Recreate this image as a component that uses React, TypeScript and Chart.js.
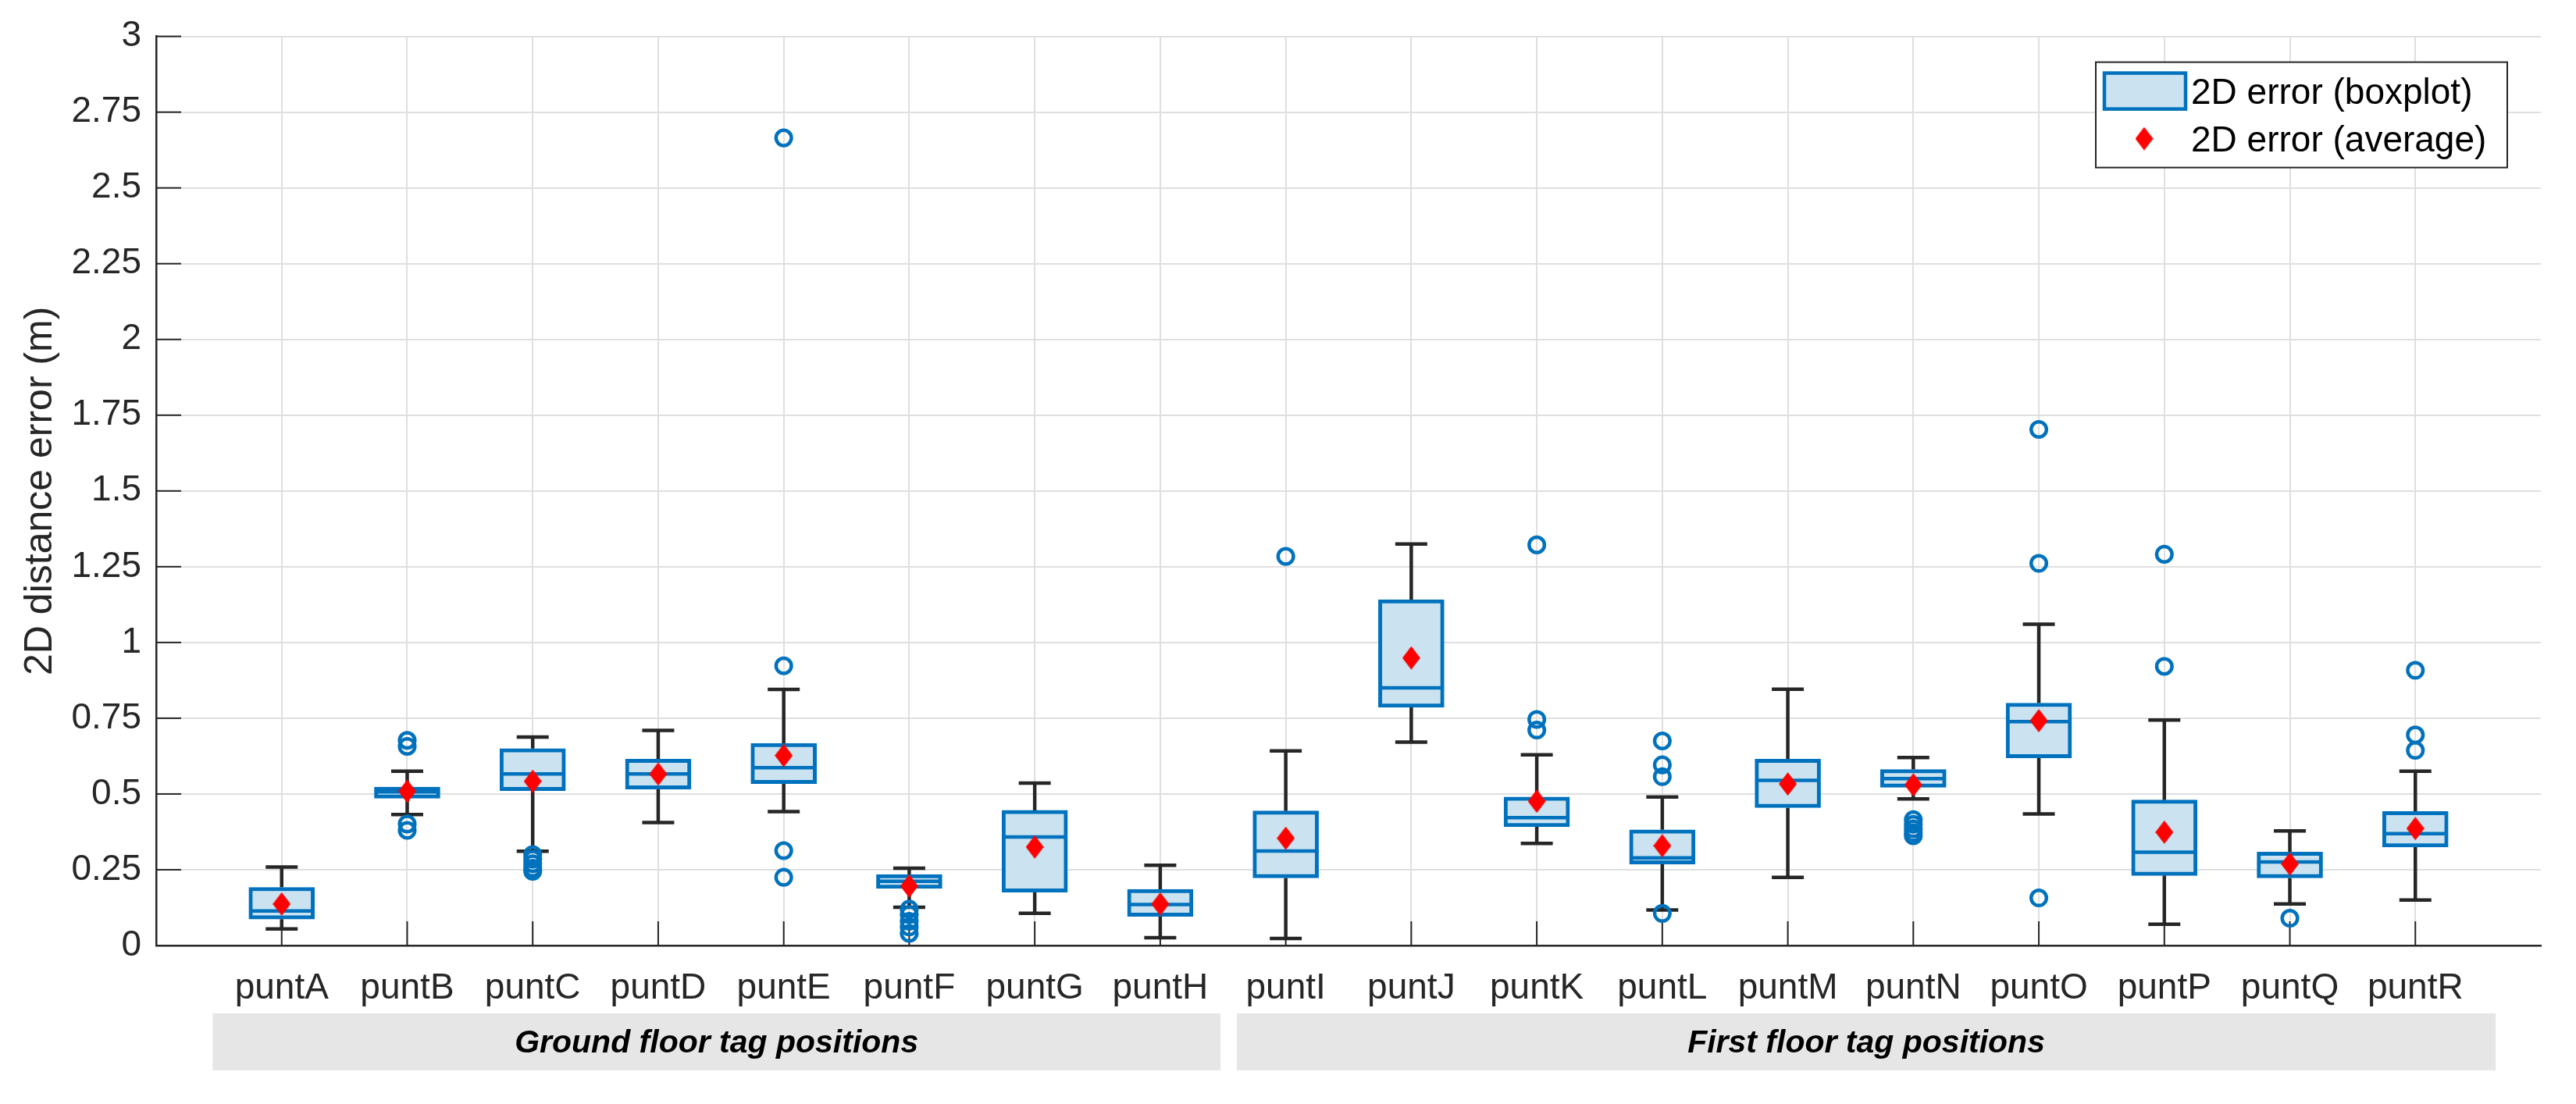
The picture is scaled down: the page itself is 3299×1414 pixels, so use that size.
import React, { useEffect, useRef } from 'react';
import { Chart, registerables } from 'chart.js';

Chart.register(...registerables);

const categories = ['puntA', 'puntB', 'puntC', 'puntD', 'puntE', 'puntF', 'puntG', 'puntH', 'puntI', 'puntJ', 'puntK', 'puntL', 'puntM', 'puntN', 'puntO', 'puntP', 'puntQ', 'puntR'];

const whiskerHigh = [0.259, 0.575, 0.688, 0.710, 0.845, 0.255, 0.536, 0.265, 0.642, 1.325, 0.629, 0.490, 0.846, 0.620, 1.060, 0.744, 0.378, 0.575];
const q3 = [0.192, 0.523, 0.650, 0.615, 0.667, 0.234, 0.446, 0.185, 0.444, 1.141, 0.490, 0.382, 0.615, 0.581, 0.800, 0.480, 0.308, 0.442];
const medians = [0.114, 0.507, 0.566, 0.566, 0.587, 0.212, 0.358, 0.135, 0.312, 0.850, 0.422, 0.289, 0.545, 0.551, 0.739, 0.308, 0.276, 0.369];
const q1 = [0.087, 0.486, 0.511, 0.516, 0.534, 0.188, 0.176, 0.096, 0.223, 0.786, 0.392, 0.269, 0.455, 0.522, 0.619, 0.231, 0.223, 0.325];
const whiskerLow = [0.055, 0.432, 0.311, 0.406, 0.442, 0.126, 0.106, 0.026, 0.023, 0.671, 0.337, 0.117, 0.225, 0.484, 0.434, 0.070, 0.137, 0.150];
const means = [0.137, 0.509, 0.542, 0.566, 0.627, 0.196, 0.325, 0.137, 0.354, 0.949, 0.476, 0.329, 0.533, 0.530, 0.742, 0.374, 0.269, 0.386];
const outliers: number[][] = [
  [],
  [0.677, 0.657, 0.401, 0.380],
  [0.300, 0.285, 0.270, 0.255, 0.245],
  [],
  [2.665, 0.923, 0.313, 0.225],
  [0.120, 0.102, 0.080, 0.061, 0.040],
  [],
  [],
  [1.284],
  [],
  [1.322, 0.746, 0.711],
  [0.675, 0.596, 0.557, 0.106],
  [],
  [0.415, 0.400, 0.385, 0.372, 0.362],
  [1.703, 1.261, 0.157],
  [1.291, 0.921],
  [0.090],
  [0.908, 0.695, 0.644],
];

const yTicks = [0, 0.25, 0.5, 0.75, 1, 1.25, 1.5, 1.75, 2, 2.25, 2.5, 2.75, 3];

const groupLabels = ['Ground floor tag positions', 'First floor tag positions'];
const groupFrom = [0.45, 8.61];
const groupTo = [8.48, 18.64];

const legendLabels = ['2D error (boxplot)', '2D error (average)'];

const BLUE = '#0072BD';
const FILL = '#cbe3f1';
const DARK = '#262626';
const FONT = "'Liberation Sans', Arial, Helvetica, sans-serif";

function makeDiamond(): HTMLCanvasElement {
  const c = document.createElement('canvas');
  c.width = 23;
  c.height = 30;
  const g = c.getContext('2d')!;
  g.fillStyle = '#ff0000';
  g.beginPath();
  g.moveTo(11.5, 0);
  g.lineTo(23, 15);
  g.lineTo(11.5, 30);
  g.lineTo(0, 15);
  g.closePath();
  g.fill();
  return c;
}

export default function App() {
  const ref = useRef<HTMLCanvasElement | null>(null);

  useEffect(() => {
    document.body.style.margin = '0';
    const canvas = ref.current;
    if (!canvas) return;
    const diamond = makeDiamond();

    const extras = {
      id: 'boxExtras',
      beforeDatasetsDraw(chart: any) {
        const { ctx, chartArea } = chart;
        const x = chart.scales.x;
        const y = chart.scales.y;
        ctx.save();
        ctx.strokeStyle = DARK;
        ctx.lineWidth = 2;
        categories.forEach((_, i) => {
          const px = x.getPixelForValue(i + 1);
          ctx.beginPath();
          ctx.moveTo(px, chartArea.bottom);
          ctx.lineTo(px, chartArea.bottom - 31);
          ctx.stroke();
        });
        yTicks.forEach((v) => {
          const py = y.getPixelForValue(v);
          ctx.beginPath();
          ctx.moveTo(chartArea.left, py);
          ctx.lineTo(chartArea.left + 32, py);
          ctx.stroke();
        });
        ctx.lineWidth = 4.5;
        ctx.strokeStyle = DARK;
        categories.forEach((_, i) => {
          const px = x.getPixelForValue(i + 1);
          const half = 20.5;
          const yHi = y.getPixelForValue(whiskerHigh[i]);
          const yQ3 = y.getPixelForValue(q3[i]);
          const yQ1 = y.getPixelForValue(q1[i]);
          const yLo = y.getPixelForValue(whiskerLow[i]);
          ctx.beginPath();
          ctx.moveTo(px, yQ3);
          ctx.lineTo(px, yHi);
          ctx.moveTo(px - half, yHi);
          ctx.lineTo(px + half, yHi);
          ctx.moveTo(px, yQ1);
          ctx.lineTo(px, yLo);
          ctx.moveTo(px - half, yLo);
          ctx.lineTo(px + half, yLo);
          ctx.stroke();
        });
        ctx.restore();
      },
      afterDatasetDraw(chart: any, args: any) {
        if (args.meta.type !== 'bar') return;
        const { ctx } = chart;
        const x = chart.scales.x;
        const y = chart.scales.y;
        ctx.save();
        ctx.strokeStyle = BLUE;
        ctx.lineWidth = 4.5;
        categories.forEach((_, i) => {
          const px = x.getPixelForValue(i + 1);
          const py = y.getPixelForValue(medians[i]);
          ctx.beginPath();
          ctx.moveTo(px - 40, py);
          ctx.lineTo(px + 40, py);
          ctx.stroke();
        });
        ctx.restore();
      },
      afterDraw(chart: any) {
        const { ctx, chartArea } = chart;
        const x = chart.scales.x;
        ctx.save();
        groupLabels.forEach((label, g) => {
          const x0 = x.getPixelForValue(groupFrom[g]);
          const x1 = x.getPixelForValue(groupTo[g]);
          ctx.fillStyle = '#e6e6e6';
          ctx.fillRect(x0, chartArea.bottom + 87, x1 - x0, 73);
          ctx.fillStyle = '#000000';
          ctx.font = `italic bold 41px ${FONT}`;
          ctx.textAlign = 'center';
          ctx.textBaseline = 'middle';
          ctx.fillText(label, (x0 + x1) / 2, chartArea.bottom + 126);
        });
        const lw = 527;
        const lh = 135;
        const lx = chartArea.right - 43 - lw;
        const ly = chartArea.top + 33;
        ctx.fillStyle = '#ffffff';
        ctx.fillRect(lx, ly, lw, lh);
        ctx.strokeStyle = DARK;
        ctx.lineWidth = 2;
        ctx.strokeRect(lx, ly, lw, lh);
        ctx.fillStyle = FILL;
        ctx.fillRect(lx + 11, ly + 14, 104, 46);
        ctx.strokeStyle = BLUE;
        ctx.lineWidth = 4.5;
        ctx.strokeRect(lx + 11, ly + 14, 104, 46);
        ctx.drawImage(diamond, lx + 62 - 11.5, ly + 98 - 15);
        ctx.fillStyle = '#000000';
        ctx.font = `46px ${FONT}`;
        ctx.textAlign = 'left';
        ctx.textBaseline = 'middle';
        ctx.fillText(legendLabels[0], lx + 122, ly + 40.5);
        ctx.fillText(legendLabels[1], lx + 122, ly + 102);
        ctx.restore();
      },
    };

    const boxData = categories.map((_, i) => ({ x: i + 1, y: [q1[i], q3[i]] }));
    const meanData = categories.map((_, i) => ({ x: i + 1, y: means[i] }));
    const outlierData: { x: number; y: number }[] = [];
    outliers.forEach((list, i) => list.forEach((v) => outlierData.push({ x: i + 1, y: v })));

    const chart = new Chart(canvas, {
      type: 'bar',
      data: {
        datasets: [
          {
            type: 'scatter',
            label: legendLabels[1],
            data: meanData,
            pointStyle: diamond as any,
            pointRadius: 15,
            order: 0,
          } as any,
          {
            type: 'scatter',
            label: 'outliers',
            data: outlierData,
            pointStyle: 'circle',
            pointRadius: 9.8,
            borderWidth: 4.5,
            borderColor: BLUE,
            backgroundColor: 'rgba(0,0,0,0)',
            order: 1,
          } as any,
          {
            type: 'bar',
            label: legendLabels[0],
            data: boxData as any,
            backgroundColor: FILL,
            borderColor: BLUE,
            borderWidth: 5,
            borderSkipped: false,
            barThickness: 84,
            order: 2,
          } as any,
        ],
      },
      options: {
        responsive: false,
        animation: false,
        devicePixelRatio: 1,
        events: [],
        layout: { padding: { left: 0, right: 45, top: 42, bottom: 0 } },
        plugins: { legend: { display: false }, tooltip: { enabled: false }, title: { display: false } },
        scales: {
          x: {
            type: 'linear',
            min: 0,
            max: 19,
            offset: false,
            afterBuildTicks: (scale: any) => {
              scale.ticks = categories.map((_, i) => ({ value: i + 1 }));
            },
            afterFit: (scale: any) => {
              scale.height = 203;
            },
            grid: { offset: false, color: '#dfdfdf', lineWidth: 2, drawTicks: false },
            border: { display: true, color: DARK, width: 2.5 },
            ticks: {
              autoSkip: false,
              maxRotation: 0,
              padding: 28,
              color: DARK,
              font: { family: FONT, size: 46 },
              callback: (v: any) => categories[Number(v) - 1] ?? '',
            },
          },
          y: {
            type: 'linear',
            min: 0,
            max: 3,
            afterBuildTicks: (scale: any) => {
              scale.ticks = yTicks.map((v) => ({ value: v }));
            },
            afterFit: (scale: any) => {
              scale.width = 200;
            },
            grid: { color: '#dfdfdf', lineWidth: 2, drawTicks: false },
            border: { display: true, color: DARK, width: 2.5 },
            ticks: {
              padding: 19,
              color: DARK,
              font: { family: FONT, size: 46 },
              callback: (v: any) => String(Number(v)),
            },
            title: {
              display: true,
              text: '2D distance error (m)',
              color: DARK,
              font: { family: FONT, size: 50 },
              padding: { top: 22, bottom: 0 },
            },
          },
        },
      } as any,
      plugins: [extras],
    });

    return () => chart.destroy();
  }, []);

  return (
    <div style={{ width: 3299, height: 1414 }}>
      <canvas ref={ref} width={3299} height={1414} style={{ display: 'block', width: 3299, height: 1414 }} />
    </div>
  );
}
